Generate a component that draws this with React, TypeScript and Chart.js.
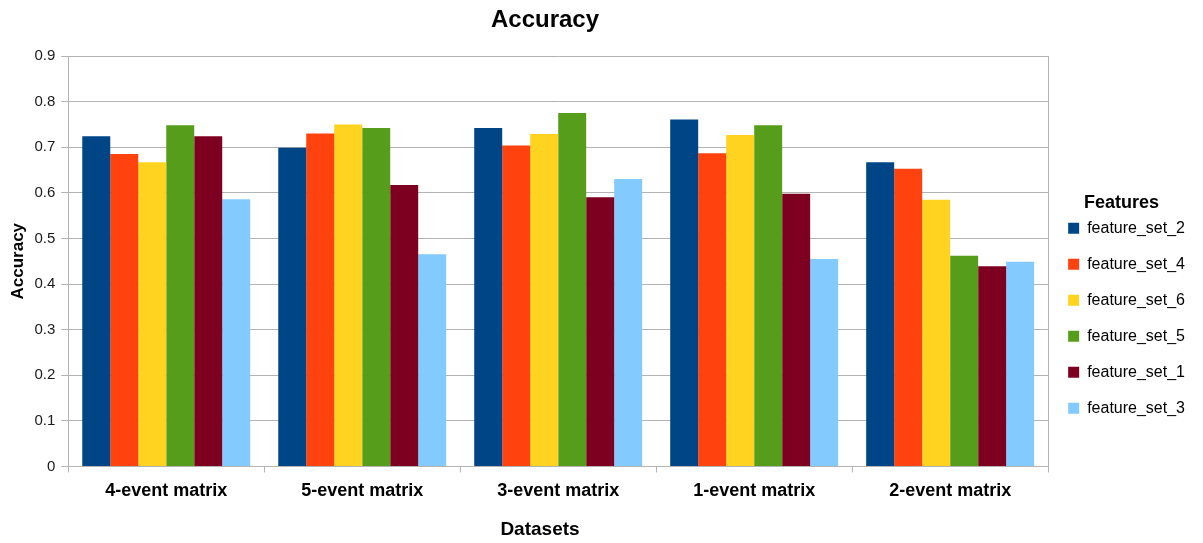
import React, { useEffect, useRef } from "react";
import { Chart, registerables } from "chart.js";

Chart.register(...registerables);

const categories = ["4-event matrix", "5-event matrix", "3-event matrix", "1-event matrix", "2-event matrix"];
const seriesNames = ["feature_set_2", "feature_set_4", "feature_set_6", "feature_set_5", "feature_set_1", "feature_set_3"];
const featureSet2 = [0.724, 0.699, 0.742, 0.761, 0.667];
const featureSet4 = [0.685, 0.730, 0.704, 0.687, 0.653];
const featureSet6 = [0.667, 0.750, 0.729, 0.727, 0.585];
const featureSet5 = [0.748, 0.742, 0.775, 0.748, 0.462];
const featureSet1 = [0.724, 0.617, 0.590, 0.598, 0.439];
const featureSet3 = [0.586, 0.465, 0.630, 0.455, 0.449];
const seriesColors = ["#004586", "#ff420e", "#ffd320", "#579d1c", "#7e0021", "#83caff"];
const chartTitle = "Accuracy";
const xTitle = "Datasets";
const yTitle = "Accuracy";
const legendTitle = "Features";

const FONT = "'Liberation Sans', Arial, sans-serif";

export default function App() {
  const ref = useRef<HTMLCanvasElement | null>(null);
  useEffect(() => {
    if (!ref.current) return;
    const values = [featureSet2, featureSet4, featureSet6, featureSet5, featureSet1, featureSet3];
    const titlesPlugin = {
      id: "titlesPlugin",
      afterDraw(chart: any) {
        const { ctx, chartArea } = chart;
        ctx.save();
        ctx.strokeStyle = "#b3b3b3";
        ctx.lineWidth = 1;
        ctx.beginPath();
        ctx.moveTo(Math.round(chartArea.right) + 0.5, chartArea.top);
        ctx.lineTo(Math.round(chartArea.right) + 0.5, chartArea.bottom);
        ctx.stroke();
        ctx.fillStyle = "#000";
        ctx.textAlign = "center";
        ctx.textBaseline = "middle";
        ctx.font = `bold 24px ${FONT}`;
        ctx.fillText(chartTitle, 545, 20);
        ctx.font = `bold 19px ${FONT}`;
        ctx.fillText(xTitle, 540, 530);
        ctx.restore();
      },
    };
    const chart = new Chart(ref.current, {
      type: "bar",
      data: {
        labels: categories,
        datasets: seriesNames.map((name, i) => ({
          label: name,
          data: values[i],
          backgroundColor: seriesColors[i],
          borderWidth: 0,
          barPercentage: 1,
          categoryPercentage: 0.857,
        })),
      },
      options: {
        animation: false,
        responsive: false,
        maintainAspectRatio: false,
        layout: { padding: { top: 56, bottom: 33, left: 6, right: 8 } },
        plugins: {
          title: { display: false },
          tooltip: { enabled: false },
          legend: {
            position: "right",
            align: "center",
            title: {
              display: true,
              text: legendTitle,
              color: "#000",
              font: { family: FONT, size: 18, weight: "bold" },
              padding: { top: 64, bottom: -15 },
            },
            labels: {
              color: "#000",
              font: { family: FONT, size: 16 },
              boxWidth: 11,
              boxHeight: 11,
              padding: 20,
            },
          },
        },
        scales: {
          x: {
            grid: {
              display: true,
              drawOnChartArea: false,
              drawTicks: true,
              tickLength: 6,
              offset: true,
              color: "#b3b3b3",
            },
            border: { display: true, color: "#b3b3b3" },
            ticks: {
              color: "#000",
              font: { family: FONT, size: 18, weight: "bold" },
              padding: 8,
            },
          },
          y: {
            min: 0,
            max: 0.9,
            ticks: {
              stepSize: 0.1,
              color: "#1a1a1a",
              font: { family: FONT, size: 15 },
              padding: 6,
              callback: (v: any) => (Math.round(Number(v) * 10) / 10).toString(),
            },
            grid: { color: "#b3b3b3", tickLength: 7 },
            border: { display: true, color: "#b3b3b3" },
            title: {
              display: true,
              text: yTitle,
              color: "#000",
              font: { family: FONT, size: 17, weight: "bold" },
              padding: { top: 2, bottom: 0 },
            },
          },
        },
      },
      plugins: [titlesPlugin],
    });
    return () => chart.destroy();
  }, []);
  return (
    <div style={{ position: "fixed", left: 0, top: 0, width: 1203, height: 543, background: "#fff" }}>
      <canvas ref={ref} width={1203} height={543} style={{ width: 1203, height: 543 }} />
    </div>
  );
}
